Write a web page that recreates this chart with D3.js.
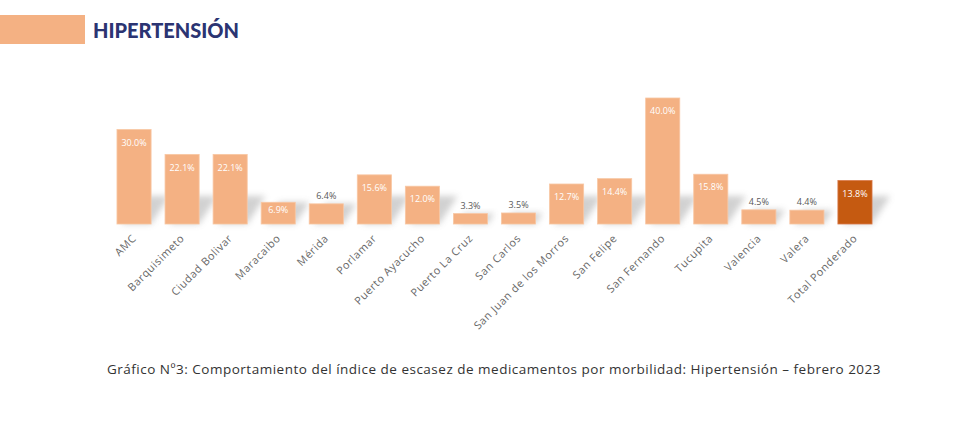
<!DOCTYPE html>
<html>
<head>
<meta charset="utf-8">
<script src="https://cdn.jsdelivr.net/npm/d3@7"></script>
<style>
html,body{margin:0;padding:0;background:#fff;}
svg{display:block;}
</style>
</head>
<body>
<svg id="chart" width="964" height="433"></svg>
<script>
const categories = ["AMC","Barquisimeto","Ciudad Bolivar","Maracaibo","Mérida","Porlamar","Puerto Ayacucho","Puerto La Cruz","San Carlos","San Juan de los Morros","San Felipe","San Fernando","Tucupita","Valencia","Valera","Total Ponderado"];
const values = [30.0,22.1,22.1,6.9,6.4,15.6,12.0,3.3,3.5,12.7,14.4,40.0,15.8,4.5,4.4,13.8];
const totalCategory = "Total Ponderado";
const title = "HIPERTENSIÓN";
const caption = "Gráfico Nº3: Comportamiento del índice de escasez de medicamentos por morbilidad: Hipertensión – febrero 2023";

const svg = d3.select("#chart");
const baseY = 224;
const x = d3.scaleBand().domain(categories).range([110, 879]).paddingInner(0.29).paddingOuter(0.145);
const y = d3.scaleLinear().domain([0, 40]).range([baseY, 98]);

const defs = svg.append("defs");
defs.append("filter").attr("id","blur").attr("x","-50%").attr("y","-50%").attr("width","200%").attr("height","200%")
  .append("feGaussianBlur").attr("stdDeviation", 3);

// title
svg.append("rect").attr("x",0).attr("y",15).attr("width",85).attr("height",29).attr("fill","#F4B183");
svg.append("text").attr("x",93).attr("y",38).text(title)
  .attr("font-family","Lato, sans-serif").attr("font-weight",900).attr("font-size",20)
  .attr("fill","#2B3472");

// shadows
svg.append("g").selectAll("polygon").data(categories).join("polygon")
  .attr("points",(d,i)=>{
    const x0 = x(d), x1 = x(d)+x.bandwidth();
    const h = baseY - y(values[i]);
    const sh = Math.min(h, 28);
    const dx = sh*0.65;
    return [[x0+4,baseY],[x1,baseY],[x1+dx,baseY-sh],[x0+4+dx,baseY-sh]].map(p=>p.join(",")).join(" ");
  })
  .attr("fill","#9a9a9a").attr("opacity",0.45).attr("filter","url(#blur)");

// bars
svg.append("g").selectAll("rect").data(categories).join("rect")
  .attr("x", d=>x(d)).attr("width", x.bandwidth())
  .attr("y",(d,i)=>y(values[i])).attr("height",(d,i)=>baseY-y(values[i]))
  .attr("fill", d=> d===totalCategory ? "#C55A11" : "#F4B183")
  .attr("stroke", d=> d===totalCategory ? "#D9794A" : "#F8C7A4").attr("stroke-width",0.8);

// value labels
svg.append("g").selectAll("text").data(categories).join("text")
  .attr("x", d=>x(d)+x.bandwidth()/2)
  .attr("y",(d,i)=>{
    const v = values[i], top = y(v), h = baseY-top;
    return v > 6.5 ? top + Math.min(13, h/2-3) : top - 8;
  })
  .attr("dy","0.35em")
  .attr("text-anchor","middle")
  .attr("font-family","'Open Sans', sans-serif").attr("font-size",9)
  .attr("fill",(d,i)=> values[i] > 6.5 ? "#FFFFFF" : "#595959")
  .text((d,i)=> values[i].toFixed(1)+"%");

// x axis labels
const axis = svg.append("g").attr("transform",`translate(0,${baseY})`)
  .call(d3.axisBottom(x).tickSize(0).tickPadding(0));
axis.select(".domain").remove();
axis.selectAll(".tick text")
  .attr("font-family","'Open Sans', sans-serif").attr("font-size",10.8).attr("fill","#666666")
  .attr("letter-spacing",0.6)
  .attr("text-anchor","end")
  .attr("dy",0).attr("y",0)
  .attr("transform","translate(3,15) rotate(-45)");

// caption
svg.append("text").attr("x",494).attr("y",374).attr("text-anchor","middle")
  .attr("font-family","'Open Sans', sans-serif").attr("font-size",13.5).attr("fill","#333333")
  .attr("letter-spacing",0.5)
  .text(caption);
</script>
</body>
</html>
